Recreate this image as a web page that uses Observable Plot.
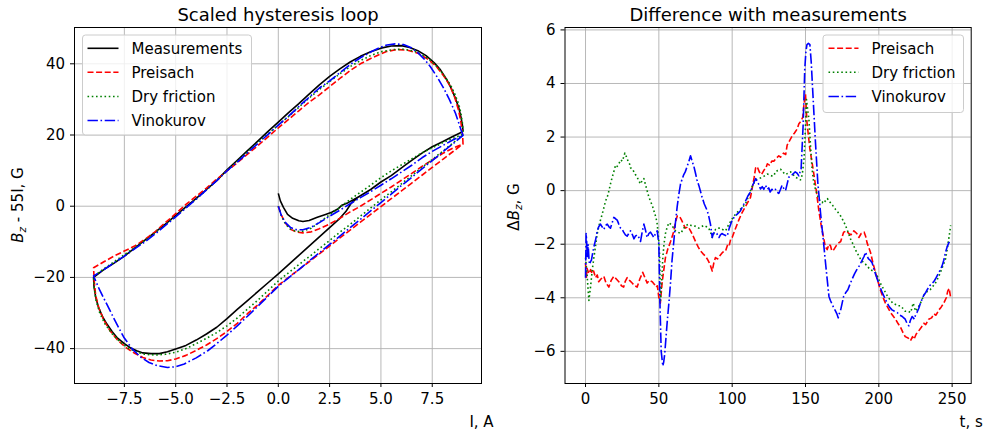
<!DOCTYPE html>
<html><head><meta charset="utf-8">
<script src="https://cdn.jsdelivr.net/npm/d3@7"></script>
<script src="https://cdn.jsdelivr.net/npm/@observablehq/plot@0.6"></script>
<style>
body{margin:0;background:#fff;}
#wrap{position:relative;width:985px;height:431px;background:#fff;}
#wrap svg{position:absolute;top:0;overflow:visible;}
</style></head><body><div id="wrap"></div>
<script>
// ---------- data ----------
const seriesNames = ["Measurements", "Preisach", "Dry friction", "Vinokurov"];
const titleLeft = "Scaled hysteresis loop";
const titleRight = "Difference with measurements";
const xTicksLeft = [-7.5, -5, -2.5, 0, 2.5, 5, 7.5];
const yTicksLeft = [-40, -20, 0, 20, 40];
const xTicksRight = [0, 50, 100, 150, 200, 250];
const yTicksRight = [-6, -4, -2, 0, 2, 4, 6];

// hysteresis loop: [I (A), Bz - 55I (G)], initial ramp 0->9, then 9->-9, then -9->9
const measLoop = [
[0,3.6],[0.1,1.5],[0.25,-0.3],[0.45,-2.3],[0.7,-3.4],[1.0,-4.1],[1.2,-4.3],[1.5,-4.0],[1.9,-3.1],[2.3,-2.3],[2.6,-1.7],[2.9,-0.8],[3.1,0.3],[3.4,1.0],[3.9,2.6],[4.5,4.7],[5.0,6.8],[5.5,8.6],[6.1,11.2],[6.5,12.9],[7.0,14.9],[7.5,16.7],[8.0,18.1],[8.5,19.6],[8.9,20.7],[9.0,21.2],
[8.97,22.8],[8.9,25],[8.8,27.5],[8.65,30],[8.45,32.8],[8.2,35.6],[7.9,38.3],[7.6,40.3],[7.2,42.3],[6.8,43.7],[6.4,44.6],[6.0,45.1],[5.5,45.0],[5.0,44.4],[4.5,43.4],[4.0,42.1],[3.5,40.5],[3.0,38.6],[2.5,36.5],[2.0,34.1],[1.5,31.5],[1.0,28.8],[0.5,26.3],[0,23.6],[-0.5,21.0],[-1,18.3],[-1.5,15.6],[-2,12.9],[-2.5,10.2],[-3,7.2],[-3.5,4.7],[-4,2.2],[-4.5,-0.2],[-5,-2.6],[-5.5,-5.0],[-6,-7.3],[-6.5,-9.5],[-7,-11.8],[-7.5,-14.0],[-8,-16.0],[-8.5,-17.8],[-9,-20.0],
[-8.98,-22.5],[-8.9,-25.5],[-8.76,-28.4],[-8.55,-31.2],[-8.35,-33.1],[-8.1,-35.2],[-7.86,-36.9],[-7.5,-38.6],[-7.2,-39.8],[-6.9,-40.6],[-6.6,-41.2],[-6.2,-41.4],[-5.8,-41.4],[-5.4,-40.9],[-5.0,-40.1],[-4.5,-39.1],[-4.0,-37.6],[-3.5,-35.9],[-3.0,-34.0],[-2.5,-31.6],[-2.0,-29.0],[-1.5,-26.5],[-1.0,-24.0],[-0.5,-21.5],[0,-19.0],[0.5,-16.4],[1.0,-13.8],[1.5,-11.2],[2.0,-8.6],[2.5,-6.0],[3.0,-3.4],[3.3,-1.4],[3.55,0.8],[3.9,2.6],[4.5,4.7],[5.0,6.8],[5.5,8.6],[6.1,11.2],[6.5,12.9],[7.0,14.9],[7.5,16.7],[8.0,18.1],[8.5,19.6],[8.9,20.7],[9.0,21.2]
];
const preLoop = [
[0,0],[0.15,-2.5],[0.35,-4.8],[0.6,-6.5],[0.9,-7.3],[1.2,-7.5],[1.6,-7.2],[2.0,-6.3],[2.5,-5.0],[3.0,-3.4],[3.5,-1.6],[4.0,0],[4.5,1.8],[5.0,3.6],[5.5,5.4],[6.0,7.3],[6.5,9.2],[7.0,11.2],[7.5,13.0],[8.0,14.8],[8.5,16.3],[9.0,17.5],
[8.98,20],[8.9,23.5],[8.78,27],[8.6,30.5],[8.35,34],[8.07,36.5],[7.7,39.3],[7.26,41.4],[6.8,43],[6.3,43.8],[5.8,44],[5.3,43.5],[5.0,42.8],[4.5,41.5],[4.0,40],[3.5,38.1],[3.0,35.9],[2.5,33.6],[2.0,31.3],[1.5,29.2],[1.0,26.8],[0.5,24.4],[0,22.0],[-0.5,19.5],[-1,17],[-1.5,14.6],[-2,12.2],[-2.5,9.9],[-3,7.6],[-3.5,5.1],[-4,2.8],[-4.5,0.5],[-5,-2.1],[-5.5,-4.6],[-6,-7.2],[-6.5,-9.3],[-7,-11.2],[-7.5,-12.6],[-8,-14],[-8.5,-15.6],[-9,-17.3],
[-8.97,-21],[-8.9,-25],[-8.75,-28.5],[-8.5,-32],[-8.2,-35],[-7.8,-37.8],[-7.4,-39.8],[-7.0,-41.3],[-6.6,-42.5],[-6.2,-43.2],[-5.8,-43.5],[-5.4,-43.4],[-5.0,-42.9],[-4.5,-41.9],[-4.0,-40.5],[-3.5,-39],[-3,-37.2],[-2.5,-35.2],[-2,-32.9],[-1.5,-30.2],[-1,-27.7],[-0.5,-25],[0,-22.2],[0.5,-20.0],[1,-17.8],[1.5,-15.6],[2,-13.4],[2.5,-11.2],[3,-8.9],[3.5,-6.7],[4,-4.5],[4.5,-2.3],[5,-0.1],[5.5,2.1],[6,4.3],[6.5,6.5],[7,8.7],[7.5,10.9],[8,13.1],[8.5,15.3],[9,17.5]
];
const dryLoop = [
[0,0],[0.15,-2.8],[0.35,-5.0],[0.6,-6.5],[0.9,-7.1],[1.2,-7.0],[1.6,-6.2],[2.0,-4.5],[2.5,-2.4],[3.0,-0.3],[3.5,1.9],[4.0,3.9],[4.5,5.9],[5.0,8.0],[5.5,9.9],[6.0,11.6],[6.5,13.3],[7.0,15.0],[7.5,16.4],[8.0,17.8],[8.5,19.0],[9.0,20.2],
[8.98,23],[8.9,26],[8.8,28.5],[8.6,31.5],[8.4,34],[8.1,36.5],[7.8,38.8],[7.4,41],[7.0,42.6],[6.6,43.6],[6.1,44.1],[5.6,44.0],[5.0,43.4],[4.5,42.3],[4.0,40.9],[3.5,39.2],[3.0,37.2],[2.5,35],[2.0,32.8],[1.5,30.4],[1.0,27.8],[0.5,25.2],[0,22.8],[-0.5,20.3],[-1,17.8],[-1.5,15.2],[-2,12.6],[-2.5,10],[-3,7.3],[-3.5,4.6],[-4,2],[-4.5,-0.4],[-5,-2.8],[-5.5,-5.1],[-6,-7.5],[-6.5,-9.6],[-7,-11.6],[-7.5,-13.6],[-8,-15.6],[-8.5,-17.6],[-9,-19.7],
[-8.97,-23],[-8.88,-26.5],[-8.7,-30],[-8.45,-33],[-8.1,-35.8],[-7.7,-38.2],[-7.3,-39.9],[-6.9,-41],[-6.5,-41.6],[-6.0,-41.8],[-5.5,-41.6],[-5.0,-41.0],[-4.5,-40.0],[-4.0,-38.6],[-3.5,-37.1],[-3,-35.5],[-2.5,-33.6],[-2,-31.4],[-1.5,-28.9],[-1,-26.4],[-0.5,-23.7],[0,-21],[0.5,-18.7],[1,-16.4],[1.5,-14.2],[2,-11.9],[2.5,-9.6],[3,-7.3],[3.5,-5.1],[4,-2.8],[4.5,-0.5],[5,1.8],[5.5,4.0],[6,6.3],[6.5,8.6],[7,10.9],[7.5,13.1],[8,15.4],[8.5,17.7],[9,20.0]
];
const vinLoop = [
[0,0],[0.15,-2.6],[0.35,-4.6],[0.6,-6.0],[0.9,-6.6],[1.2,-6.6],[1.6,-5.9],[2.0,-4.6],[2.5,-2.8],[3.0,-1.1],[3.5,0.7],[4.0,2.4],[4.5,4.1],[5.0,5.9],[5.5,7.7],[6.0,9.6],[6.5,11.5],[7.0,13.6],[7.5,15.4],[8.0,17.0],[8.5,18.6],[9.0,19.9],
[8.9,21.5],[8.64,26],[8.35,29.8],[8.07,33],[7.75,36.2],[7.42,39.1],[7.1,41.4],[6.77,43.3],[6.45,44.6],[6.1,45.4],[5.7,45.6],[5.3,45.3],[5.0,44.7],[4.5,43.3],[4.0,41.7],[3.5,39.8],[3.0,37.5],[2.5,35.2],[2.0,33.2],[1.5,30.6],[1.0,28],[0.5,25.3],[0,22.8],[-0.5,20.2],[-1,17.6],[-1.5,15],[-2,12.4],[-2.5,9.9],[-3,7.2],[-3.5,4.6],[-4,2],[-4.5,-0.5],[-5,-3.0],[-5.5,-5.4],[-6,-7.8],[-6.5,-10],[-7,-12],[-7.5,-14],[-8,-15.9],[-8.5,-17.8],[-9,-19.6],
[-8.7,-23.6],[-8.35,-27.6],[-7.95,-32.2],[-7.53,-36.8],[-7.1,-40.2],[-6.7,-42.4],[-6.3,-43.9],[-5.9,-44.8],[-5.4,-45.3],[-5.0,-45.1],[-4.58,-44.3],[-4.0,-42.6],[-3.44,-40.6],[-3,-38.6],[-2.5,-36.2],[-2,-33.6],[-1.5,-30.9],[-1,-28.1],[-0.5,-25.3],[0,-22.5],[0.5,-20.1],[1,-17.8],[1.5,-15.4],[2,-13.1],[2.5,-10.7],[3,-8.4],[3.5,-6.0],[4,-3.7],[4.5,-1.3],[5,1.0],[5.5,3.4],[6,5.8],[6.5,8.1],[7,10.5],[7.5,12.8],[8,15.2],[8.5,17.5],[9,19.9]
];

// difference with measurements: [t (s), dBz (G)]
const preDiff = [
[0,-2.7],[0.5,-3.3],[1,-2.9],[2.3,-3.1],[3.5,-2.95],[4.5,-3.1],[5.5,-3.0],[6.8,-3.25],[8,-3.15],[9,-3.4],[10.5,-3.3],[12.5,-3.2],[14,-3.45],[15.9,-3.6],[17.5,-3.35],[19.3,-3.2],[21,-3.3],[22.7,-3.4],[24.5,-3.55],[26,-3.6],[27,-3.4],[28.4,-3.25],[30,-3.35],[31.8,-3.45],[33.5,-3.55],[35.2,-3.6],[37,-3.3],[39,-3.05],[40.5,-3.25],[42,-3.45],[43.5,-3.35],[45.5,-3.4],[47,-3.5],[48,-3.6],[49,-3.55],[50,-4.0],[51,-4.2],[52.3,-3.4],[54.5,-2.5],[56,-2.2],[58,-1.9],[60,-1.55],[61.3,-1.2],[62.5,-0.95],[64,-0.95],[65.5,-1.1],[68,-1.4],[70,-1.35],[71.6,-1.5],[73,-1.65],[75,-1.9],[76.8,-2.1],[78.4,-2.25],[80,-2.35],[81.8,-2.45],[83,-2.55],[84,-2.65],[85.2,-2.8],[86.4,-3.0],[87.5,-2.7],[88.6,-2.5],[90,-2.55],[92,-2.4],[93.5,-2.3],[95.5,-2.25],[97,-2.0],[98,-2.05],[99,-1.8],[100,-1.75],[102,-1.45],[104.5,-1.1],[106.5,-0.85],[109,-0.6],[111,-0.4],[112.5,-0.25],[114,0.2],[115,0.5],[116,0.85],[117,0.9],[118.5,0.7],[120,0.6],[121.5,0.75],[123,0.85],[124,1.0],[125.5,0.95],[127,1.1],[128.4,1.1],[130,1.2],[131.8,1.3],[133,1.25],[135,1.4],[136.5,1.35],[137.5,1.7],[139,1.85],[141,2.05],[142.5,2.15],[144.3,2.3],[145.5,2.5],[147,2.6],[148.2,2.75],[148.9,3.2],[150,3.6],[151,2.55],[153,1.55],[155.2,0.8],[157.5,-0.05],[159,-0.7],[160.7,-1.3],[162.5,-1.8],[163.5,-2.1],[164.8,-2.2],[166,-2.0],[167,-2.05],[168,-2.25],[169.3,-2.2],[171,-2.05],[172.7,-1.95],[174,-1.9],[176,-1.55],[178,-1.5],[179.5,-1.6],[181,-1.65],[183,-1.5],[185,-1.6],[186.4,-1.75],[188,-1.6],[190,-1.55],[191,-1.7],[192,-1.95],[193,-2.1],[194.3,-2.3],[196,-2.7],[197.7,-3.05],[199.5,-3.4],[201,-3.7],[203,-4.0],[204.5,-4.2],[206,-4.35],[208,-4.55],[210,-4.7],[211.4,-4.8],[213,-4.95],[214.8,-5.1],[216.5,-5.3],[218,-5.45],[220,-5.5],[221.6,-5.6],[223,-5.45],[224,-5.55],[225.5,-5.35],[227,-5.25],[229,-5.1],[230.7,-4.95],[232,-5.0],[234,-4.8],[236,-4.75],[237.5,-4.6],[239,-4.65],[241,-4.45],[242.5,-4.35],[244.3,-4.2],[246,-4.0],[247,-3.75],[248,-3.65],[249,-4.0]
];
const dryDiff = [
[0,-2.5],[1,-3.1],[2.3,-4.1],[3.4,-3.6],[4.5,-3.0],[5.7,-2.5],[7,-2.0],[8,-1.6],[9,-1.35],[10.2,-1.1],[12,-0.75],[13.6,-0.4],[15,-0.2],[16,0],[17,0.25],[18.2,0.5],[19.5,0.75],[20.5,0.95],[21.5,0.9],[22.7,1.0],[24,1.15],[25,1.1],[26,1.25],[26.8,1.4],[28,1.25],[29,1.1],[30,1.0],[30.7,0.85],[32,0.8],[33,0.7],[34,0.6],[35.2,0.5],[36.5,0.35],[37.5,0.25],[38.8,0.4],[39.8,0.45],[41,0.2],[42,0],[43,-0.2],[44.3,-0.4],[45.5,-0.55],[46.6,-0.75],[48,-1.0],[48.9,-1.25],[50,-1.9],[50.5,-2.4],[51.1,-4.1],[52,-3.3],[52.7,-2.5],[53.5,-2.0],[54.5,-1.6],[55.5,-1.4],[56.8,-1.2],[58,-1.25],[59,-1.3],[60,-1.4],[61.4,-1.5],[63,-1.55],[64.8,-1.6],[66,-1.5],[67,-1.4],[68.5,-1.3],[70.5,-1.25],[72,-1.3],[73.9,-1.3],[75.5,-1.35],[77.3,-1.4],[79,-1.35],[80.7,-1.3],[82.5,-1.35],[84,-1.4],[85.2,-1.55],[86.4,-1.75],[87.5,-1.6],[88.6,-1.45],[90,-1.4],[92,-1.4],[93.5,-1.45],[95.5,-1.5],[96.5,-1.4],[97.7,-1.25],[99,-1.15],[100,-1.05],[102,-0.9],[104.5,-0.75],[106.5,-0.65],[109,-0.5],[110.5,-0.3],[112.5,0],[114,0.2],[116,0.4],[118,0.45],[120.5,0.5],[122,0.55],[123.9,0.62],[125,0.6],[127,0.55],[128.4,0.55],[129.5,0.7],[131,0.75],[133,0.8],[134.5,0.7],[136.4,0.6],[138,0.65],[139.8,0.7],[141.5,0.6],[143,0.5],[145,0.45],[146.6,0.4],[147.8,0.6],[149,1.2],[150,2.4],[150.7,3.4],[151.5,3.0],[152.3,2.7],[153.4,1.7],[154.5,0.8],[155.5,0.35],[156.8,0.05],[158,-0.15],[159,-0.3],[160.2,-0.4],[161.4,-0.45],[162.5,-0.35],[163.6,-0.4],[165,-0.3],[166,-0.4],[167,-0.45],[168.5,-0.55],[170.5,-0.7],[172,-0.8],[174,-0.95],[175.5,-1.1],[177.3,-1.3],[179,-1.55],[180.7,-1.8],[182,-1.95],[184,-2.2],[186,-2.4],[187.5,-2.55],[189,-2.65],[191,-2.75],[192.5,-2.85],[194.3,-2.95],[196,-3.0],[197.7,-3.05],[199.5,-3.25],[201,-3.45],[203,-3.65],[204.5,-3.8],[206,-3.95],[208,-4.1],[209.5,-4.2],[211.4,-4.25],[213,-4.3],[214.8,-4.3],[216.5,-4.4],[218,-4.5],[220,-4.5],[221.6,-4.55],[222.5,-4.4],[223.4,-4.2],[224.3,-4.35],[225,-4.5],[226.5,-4.4],[228.4,-4.2],[230,-4.0],[231.8,-3.8],[233.5,-3.75],[235,-3.7],[236.5,-3.6],[238.6,-3.45],[240.5,-3.25],[242,-3.05],[243.8,-2.8],[245.5,-2.55],[246.6,-2.2],[247.7,-1.8],[248.5,-1.5],[249,-1.3]
];
const vinDiff = [
[0,-3.25],[0.4,-1.6],[0.8,-1.9],[1.1,-2.5],[1.5,-2.2],[1.8,-2.0],[2.3,-2.5],[2.7,-2.75],[3.4,-2.65],[4,-2.6],[4.8,-2.35],[5.7,-2.1],[7,-1.8],[8,-1.5],[9,-1.35],[10.2,-1.25],[11.3,-1.35],[12.5,-1.45],[13.6,-1.3],[14.8,-1.25],[16,-1.35],[17,-1.4],[18.2,-1.2],[19.3,-1.0],[20.5,-1.05],[21.6,-1.1],[22.7,-1.25],[23.9,-1.4],[25,-1.45],[26,-1.55],[27.2,-1.65],[28.4,-1.7],[29.5,-1.6],[30.7,-1.5],[32,-1.65],[33,-1.8],[34,-1.7],[35.2,-1.65],[36.4,-1.75],[37.5,-1.9],[38.6,-1.55],[39.8,-1.25],[41,-1.5],[42,-1.75],[43.2,-1.6],[44.3,-1.55],[45.5,-1.65],[46.6,-1.75],[47.7,-1.6],[48.9,-1.5],[50,-2.0],[50.7,-4.1],[51.6,-6.0],[52.7,-6.55],[53.3,-6.4],[54,-6.1],[55.7,-4.9],[57,-4.1],[58,-3.4],[59,-2.6],[60.2,-1.9],[61.3,-1.2],[62.5,-0.6],[63.6,-0.15],[64.8,0.25],[66,0.45],[67,0.6],[68,0.7],[69.3,0.9],[70.5,1.1],[71.6,1.3],[72.7,1.1],[73.9,0.9],[75,0.65],[76,0.4],[77.5,0.15],[79.5,-0.25],[81,-0.5],[83,-0.75],[84,-0.95],[85.2,-1.25],[86.4,-1.75],[87.2,-1.6],[88,-1.55],[89.5,-1.6],[91,-1.75],[92,-1.65],[93,-1.6],[94.5,-1.65],[96.6,-1.7],[97.3,-1.55],[98,-1.4],[99,-1.25],[100,-1.1],[102,-0.95],[104,-0.85],[105.7,-0.75],[107.5,-0.55],[109,-0.4],[110.7,-0.2],[112.5,-0.05],[114,0.2],[116,0.45],[117,0.35],[118,0.25],[119.3,0.06],[120.5,0.15],[121.6,0.05],[122.7,0.2],[124,0.05],[125,0.1],[125.9,-0.05],[127,0.05],[128.4,0],[129.5,0.05],[130.5,-0.05],[131.8,-0.1],[133,0.05],[134,0.2],[135,0.1],[136.4,0],[137.5,0.25],[138.6,0.5],[139.8,0.55],[141,0.6],[142,0.65],[143,0.7],[144.3,0.65],[145.5,0.55],[146.3,0.7],[147,0.8],[148.4,2.45],[149.5,4.55],[150.3,5.2],[151,5.45],[152,5.5],[153,5.45],[153.9,4.8],[155.2,3.45],[156.8,1.8],[158.4,0.3],[160.2,-0.8],[162.5,-2.05],[164.3,-3.05],[166,-3.95],[167,-4.1],[168.2,-4.25],[169.5,-4.4],[170.5,-4.5],[171.4,-4.6],[172.3,-4.75],[173,-4.6],[174,-4.45],[175,-4.2],[176,-3.95],[177.5,-3.8],[178.9,-3.7],[180.3,-3.5],[181.8,-3.3],[183.5,-3.1],[185,-2.95],[186.8,-2.8],[188.6,-2.6],[190,-2.45],[191,-2.3],[192,-2.45],[193,-2.55],[194.2,-2.6],[195.5,-2.7],[197,-3.0],[198.9,-3.3],[200.5,-3.55],[202.3,-3.8],[204,-4.0],[205.7,-4.2],[207.3,-4.35],[209,-4.45],[210.7,-4.5],[212.5,-4.55],[214.3,-4.65],[216,-4.7],[217,-4.75],[218,-4.8],[219.2,-4.95],[220.5,-5.05],[221.5,-4.85],[222.7,-4.7],[223.5,-4.75],[224.3,-4.8],[225,-4.65],[226,-4.55],[227.2,-4.4],[228.4,-4.2],[229.5,-4.05],[230.7,-3.9],[232,-3.8],[233,-3.7],[234.7,-3.55],[236.4,-3.45],[237.5,-3.4],[238.6,-3.3],[240,-3.15],[241,-3.05],[242,-2.95],[243.2,-2.8],[244.3,-2.6],[245.5,-2.3],[246.6,-2.1],[247.7,-1.95],[248.5,-1.9],[249,-1.95]
];

// ---------- styles ----------
const FONT = "'DejaVu Sans', sans-serif";
const colors = {"Measurements": "#000000", "Preisach": "#ff0000", "Dry friction": "#008000", "Vinokurov": "#0000ff"};
const dashes = {"Measurements": null, "Preisach": "6,2.6", "Dry friction": "1.6,2.65", "Vinokurov": "10.4,2.6,1.6,2.6"};
const LW = 1.6;
const GRID = {stroke: "#b0b0b0", strokeOpacity: 1, strokeWidth: 0.9};

function lineMark(data, name) {
  const o = {x: d => d[0], y: d => d[1], stroke: colors[name], strokeWidth: LW, strokeLinecap: "butt", strokeLinejoin: "round"};
  if (dashes[name]) o.strokeDasharray = dashes[name];
  return Plot.line(data, o);
}

function addLegend(svg, box, lineX0, lineX1, textX, rowsY, names) {
  const g = d3.select(svg).append("g");
  g.append("rect").attr("x", box[0]).attr("y", box[1]).attr("width", box[2]).attr("height", box[3])
    .attr("rx", 3).attr("fill", "#ffffff").attr("fill-opacity", 0.8).attr("stroke", "#cccccc").attr("stroke-width", 1);
  names.forEach((n, j) => {
    const l = g.append("line").attr("x1", lineX0).attr("x2", lineX1).attr("y1", rowsY[j]).attr("y2", rowsY[j])
      .attr("stroke", colors[n]).attr("stroke-width", LW).attr("stroke-linecap", "butt");
    if (dashes[n]) l.attr("stroke-dasharray", dashes[n]);
    g.append("text").attr("x", textX).attr("y", rowsY[j]).attr("dy", "0.36em").attr("text-anchor", "start")
      .attr("font-family", FONT).attr("font-size", 15).attr("fill", "#000").text(n);
  });
}

function addYLabel(svg, x, y, parts) {
  const t = d3.select(svg).append("text").attr("transform", `translate(${x},${y}) rotate(-90)`)
    .attr("text-anchor", "middle").attr("font-family", FONT).attr("font-size", 15).attr("fill", "#000");
  parts.forEach(p => {
    const s = t.append("tspan").text(p.t);
    if (p.italic) s.attr("font-style", "italic");
    if (p.size) s.attr("font-size", p.size);
    if (p.dy) s.attr("dy", p.dy);
  });
}

const wrap = document.getElementById("wrap");

// ---------- left: hysteresis loop ----------
const left = Plot.plot({
  width: 490, height: 431,
  marginLeft: 74, marginRight: 9, marginTop: 27, marginBottom: 48,
  style: {fontFamily: FONT, fontSize: "15px", overflow: "visible", background: "transparent", color: "#000"},
  x: {domain: [-9.93, 9.9]},
  y: {domain: [-49.8, 50.2]},
  marks: [
    Plot.gridX(xTicksLeft, GRID),
    Plot.gridY(yTicksLeft, GRID),
    Plot.axisX(xTicksLeft, {tickSize: 4, tickPadding: 6, fontSize: 15, tickFormat: d3.format(".1f"), label: null}),
    Plot.axisY(yTicksLeft, {tickSize: 4, tickPadding: 5.5, fontSize: 15, label: null}),
    lineMark(measLoop, "Measurements"),
    lineMark(preLoop, "Preisach"),
    lineMark(dryLoop, "Dry friction"),
    lineMark(vinLoop, "Vinokurov"),
    Plot.frame({stroke: "#000", strokeWidth: 1}),
    Plot.text([titleLeft], {text: d => d, frameAnchor: "top", lineAnchor: "bottom", dy: -7, fontSize: 18}),
    Plot.text(["I, A"], {text: d => d, frameAnchor: "bottom-right", textAnchor: "middle", lineAnchor: "bottom", dy: 43, fontSize: 15})
  ]
});
left.style.left = "0px";
wrap.appendChild(left);
addLegend(left, [82.5, 35, 169, 100], 87.5, 118.5, 131.5, [48.3, 72.3, 96.5, 120.5], seriesNames);
addYLabel(left, 23, 205, [{t: "B", italic: true}, {t: "z", italic: true, size: 10.5, dy: 3}, {t: " - 55I, G", dy: -3}]);

// ---------- right: difference ----------
const right = Plot.plot({
  width: 495, height: 431,
  marginLeft: 74.5, marginRight: 14.3, marginTop: 27, marginBottom: 48,
  style: {fontFamily: FONT, fontSize: "15px", overflow: "visible", background: "transparent", color: "#000"},
  x: {domain: [-14, 263]},
  y: {domain: [-7.2, 6.09]},
  marks: [
    Plot.gridX(xTicksRight, GRID),
    Plot.gridY(yTicksRight, GRID),
    Plot.axisX(xTicksRight, {tickSize: 4, tickPadding: 6, fontSize: 15, label: null}),
    Plot.axisY(yTicksRight, {tickSize: 4, tickPadding: 5.5, fontSize: 15, label: null}),
    lineMark(preDiff, "Preisach"),
    lineMark(dryDiff, "Dry friction"),
    lineMark(vinDiff, "Vinokurov"),
    Plot.frame({stroke: "#000", strokeWidth: 1}),
    Plot.text([titleRight], {text: d => d, frameAnchor: "top", lineAnchor: "bottom", dy: -7, fontSize: 18}),
    Plot.text(["t, s"], {text: d => d, frameAnchor: "bottom-right", textAnchor: "middle", lineAnchor: "bottom", dy: 43, fontSize: 15})
  ]
});
right.style.left = "490px";
wrap.appendChild(right);
addLegend(right, [333, 35, 140.5, 77.5], 338.5, 368.5, 381.5, [48.3, 72.3, 96.5], seriesNames.slice(1));
addYLabel(right, 29, 207, [{t: "\u0394"}, {t: "B", italic: true}, {t: "z", italic: true, size: 10.5, dy: 3}, {t: ", G", dy: -3}]);
</script>
</body></html>
